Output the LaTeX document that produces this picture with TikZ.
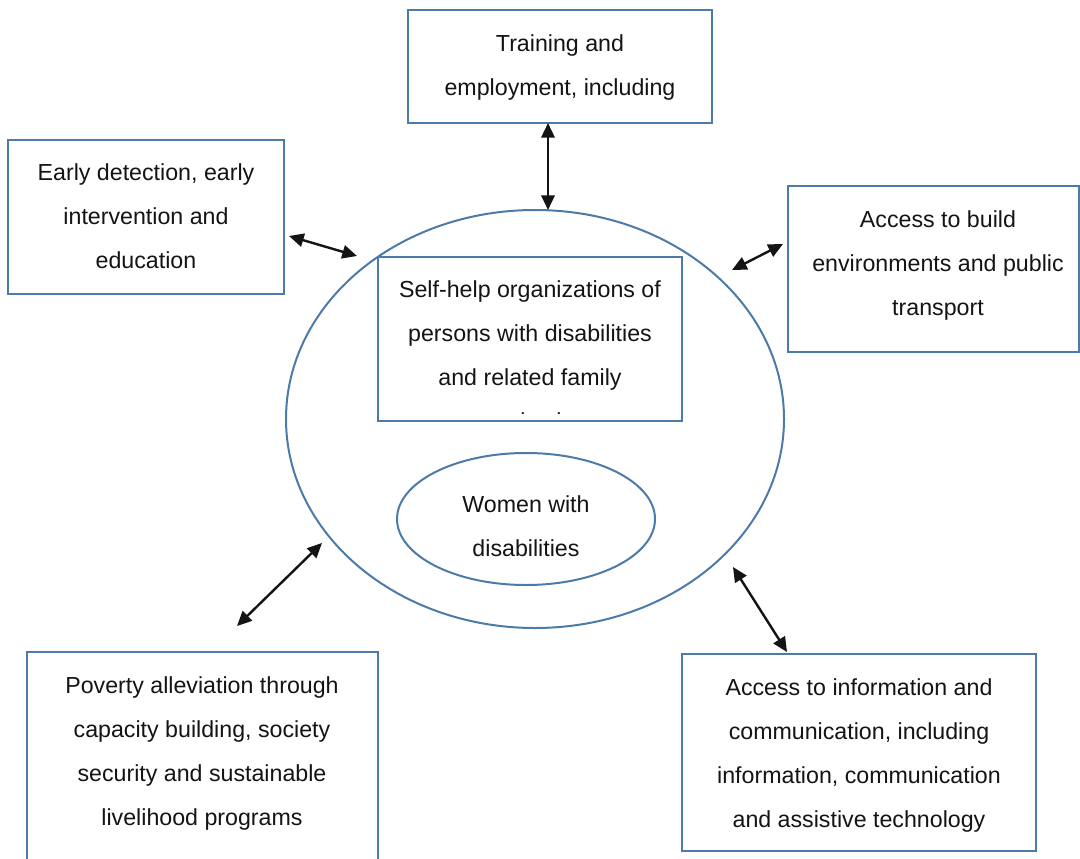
\documentclass[tikz,border=0pt]{standalone}
\usepackage{fontspec}
\setmainfont{Liberation Sans}
\usetikzlibrary{arrows.meta,shapes.geometric}
\definecolor{edgeblue}{HTML}{4C7BAA}
\begin{document}
\begin{tikzpicture}[x=0.75pt,y=-0.75pt,
  box/.style={draw=edgeblue,line width=1.5pt,rectangle,inner sep=0pt},
  txt/.style={align=center,font=\fontsize{17.4}{33}\selectfont,inner sep=0pt,text=black!92},
  link/.style={line width=1.8pt,black!92,{Triangle[length=11pt,width=10pt]}-{Triangle[length=11pt,width=10pt]}}]
\useasboundingbox[fill=white] (0,0) rectangle (1080,859);

% outer circle and inner ellipse
\node[draw=edgeblue,line width=1.5pt,ellipse,minimum width=498*0.75pt,minimum height=418*0.75pt,inner sep=0pt] (hub) at (535,419) {};
\node[draw=edgeblue,line width=1.5pt,ellipse,minimum width=258*0.75pt,minimum height=132*0.75pt,inner sep=0pt] (women) at (526,519) {};
\node[txt] (womenT) at (526,526) {Women with\\disabilities};

% central box (its last line is cut off by the frame)
\node[box,minimum width=304*0.75pt,minimum height=164*0.75pt] (shg) at (530,339) {};
\begin{scope}
  \clip (378,257) rectangle (682,413);
  \node[txt] (shgT) at (530,357.5) {Self-help organizations of\\persons with disabilities\\and related family\\organizations};
\end{scope}

% surrounding boxes
\node[box,minimum width=304*0.75pt,minimum height=113*0.75pt] (train) at (560,66.5) {};
\node[txt] (trainT) at (560,67.5) {Training and\\employment, including};

\node[box,minimum width=276*0.75pt,minimum height=154*0.75pt] (early) at (146,217) {};
\node[txt] (earlyT) at (146,216.5) {Early detection, early\\intervention and\\education};

\node[box,minimum width=291*0.75pt,minimum height=166*0.75pt] (build) at (933.5,269) {};
\node[txt] (buildT) at (938,265.5) {Access to build\\environments and public\\transport};

\node[box,minimum width=351*0.75pt,minimum height=220*0.75pt] (poverty) at (202.5,762) {};
\node[txt] (povertyT) at (202,753.5) {Poverty alleviation through\\capacity building, society\\security and sustainable\\livelihood programs};

\node[box,minimum width=354*0.75pt,minimum height=197*0.75pt] (info) at (859,752.5) {};
\node[txt] (infoT) at (859,755.5) {Access to information and\\communication, including\\information, communication\\and assistive technology};

% arrow end points
\coordinate (tA) at (548,123); \coordinate (tB) at (548,210);
\coordinate (eA) at (289,236); \coordinate (eB) at (357,256);
\coordinate (bA) at (783,244); \coordinate (bB) at (732,270);
\coordinate (pA) at (237,626); \coordinate (pB) at (322,543);
\coordinate (iA) at (787,652); \coordinate (iB) at (733,567);

\draw[link] (tA) -- (tB);
\draw[link] (eA) -- (eB);
\draw[link] (bA) -- (bB);
\draw[link] (pA) -- (pB);
\draw[link] (iA) -- (iB);
\end{tikzpicture}
\end{document}
